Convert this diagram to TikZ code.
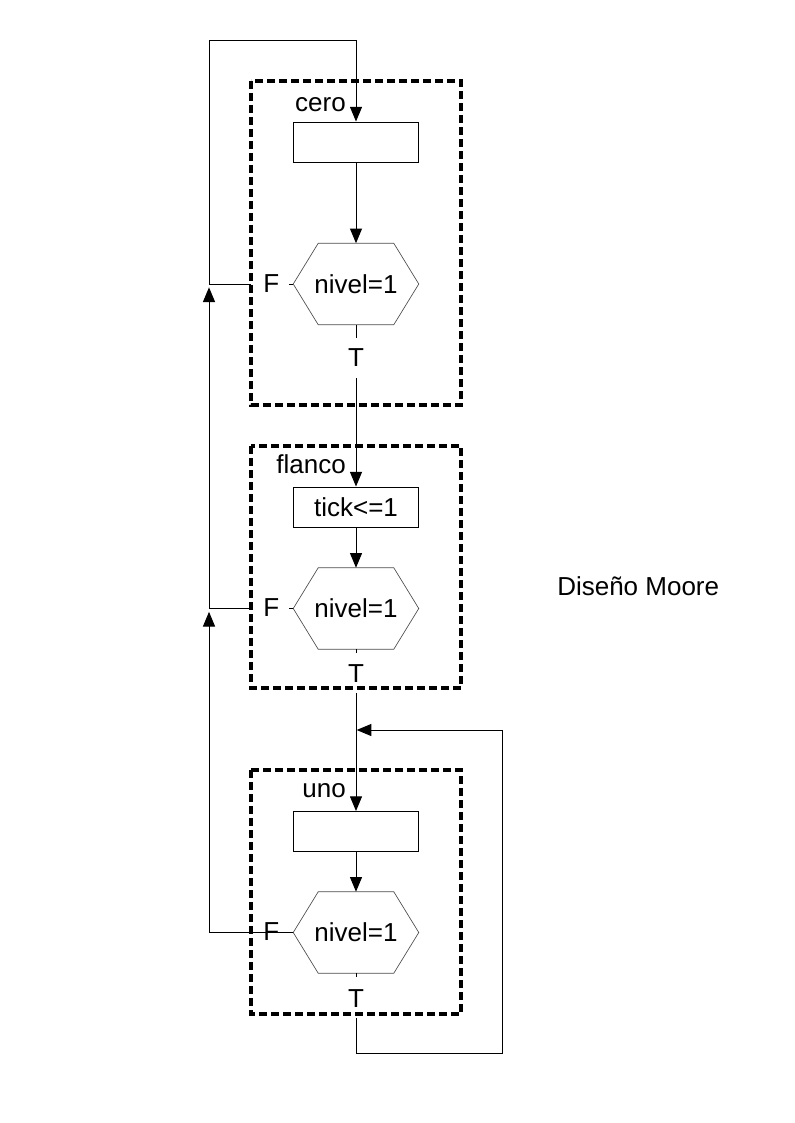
\documentclass[tikz,border=0pt]{standalone}
\usepackage{fontspec}
\setmainfont{Liberation Sans}
\usetikzlibrary{arrows.meta}
\begin{document}
\begin{tikzpicture}[x=0.75pt,y=-0.75pt,
  every node/.style={font=\fontsize{19.5}{22}\selectfont},
  dbox/.style={draw, line width=2.5pt, dash pattern=on 6pt off 3pt},
  conn/.style={draw, line width=0.75pt},
  arr/.style={conn, -{Triangle[length=11pt,width=9pt]}},
  rbox/.style={draw, line width=0.7pt, minimum width=93.75pt, minimum height=30pt, inner sep=0pt},
  hexn/.style={minimum width=93.75pt, minimum height=60.75pt, inner sep=0pt},
  hexline/.style={draw=gray!60!black, line width=0.5pt},
  lbl/.style={inner sep=0pt}]
\newcommand\hexshape[1]{\draw[hexline] (#1.west) -- ([xshift=18.75pt]#1.north west) -- ([xshift=-18.75pt]#1.north east) -- (#1.east) -- ([xshift=-18.75pt]#1.south east) -- ([xshift=18.75pt]#1.south west) -- cycle;}
\useasboundingbox (0,0) rectangle (794,1123);
% dashed state boxes
\draw[dbox] (251,81) rectangle (461,405);
\draw[dbox] (251,446) rectangle (461,688);
\draw[dbox] (251,770) rectangle (461,1014);
% state labels
\node[lbl, anchor=base east] (lcero) at (346,112) {cero};
\node[lbl, anchor=base east] (lflanco) at (346,473) {flanco};
\node[lbl, anchor=base east] (luno) at (346,797) {uno};
% action boxes
\node[rbox] (r1) at (356,142) {};
\node[rbox] (r2) at (356,507) {tick<=1};
\node[rbox] (r3) at (356,831.5) {};
% decisions
\node[hexn] (h1) at (356,284) {nivel=1};
\node[hexn] (h2) at (356,608.5) {nivel=1};
\node[hexn] (h3) at (356,932.5) {nivel=1};
\hexshape{h1}\hexshape{h2}\hexshape{h3}
% F / T labels
\node[lbl, anchor=base west] (f1) at (263,292) {F};
\node[lbl, anchor=base west] (f2) at (263,616) {F};
\node[lbl, anchor=base west] (f3) at (263,940) {F};
\node[lbl, anchor=base] (t1) at (356,366) {T};
\node[lbl, anchor=base] (t2) at (356,682) {T};
\node[lbl, anchor=base] (t3) at (356,1007) {T};
\node[lbl, anchor=base west] (title) at (557,595) {Diseño Moore};
% coordinates
\coordinate (e1) at (251,284);
\coordinate (e2) at (251,608.5);
\coordinate (j1) at (209,284);
\coordinate (j2) at (209,608.5);
\coordinate (j3) at (209,932.5);
\coordinate (top) at (209,41);
\coordinate (s1) at (289,284);
\coordinate (s2) at (289,608.5);
\coordinate (b1) at (356,338);
\coordinate (b2) at (356,653);
\coordinate (b3) at (356,977);
\coordinate (d1) at (356,378);
\coordinate (d2) at (356,693);
\coordinate (d3) at (356,1018);
\coordinate (m) at (356,730);
\coordinate (rb) at (502,1053);
% connectors
\draw[arr] (e1) -- (j1) -- (top) -| (r1.north);
\draw[arr] (r1.south) -- (h1.north);
\draw[arr] (r2.south) -- (h2.north);
\draw[arr] (r3.south) -- (h3.north);
\draw[conn] (s1) -- (h1.west);
\draw[conn] (s2) -- (h2.west);
\draw[conn] (h1.south) -- (b1);
\draw[conn] (h2.south) -- (b2);
\draw[conn] (h3.south) -- (b3);
\draw[arr] (d1) -- (r2.north);
\draw[arr] (d2) -- (r3.north);
\draw[arr] (e2) -- (j2) -- ([yshift=-2.5pt]j1);
\draw[arr] (h3.west) -- (j3) -- ([yshift=-2.5pt]j2);
\draw[arr] (d3) |- (rb) |- ([xshift=0.5pt]m);
\end{tikzpicture}
\end{document}
